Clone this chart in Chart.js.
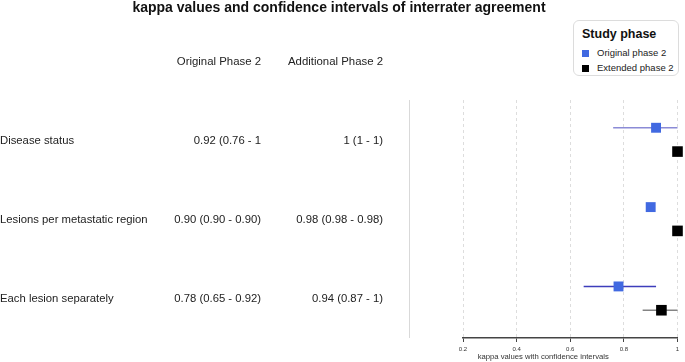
<!DOCTYPE html>
<html>
<head>
<meta charset="utf-8">
<script src="https://cdn.jsdelivr.net/npm/chart.js@4"></script>
<style>
  html, body { margin: 0; padding: 0; background: #fff; }
  #wrap { position: relative; width: 685px; height: 362px; }
  #legend { position: absolute; left: 573px; top: 20px; width: 106px; height: 56px;
    border: 1px solid #dcdcdc; border-radius: 6px; box-sizing: border-box;
    font-family: "Liberation Sans", Arial, sans-serif; background: #fff; }
  #legend .t { position: absolute; left: 8px; top: 6px; font-size: 12.5px; font-weight: bold; color: #111; }
  #legend .it { position: absolute; left: 8px; font-size: 9.5px; color: #222; white-space: nowrap; }
  #legend .sw { display: inline-block; width: 7px; height: 7px; margin-right: 8px; vertical-align: -0.5px; }
</style>
</head>
<body>
<div id="wrap">
  <canvas id="c" width="685" height="362"></canvas>
  <div id="legend"></div>
</div>
<script>
// ---- data ----
const rowLabels = ["Disease status", "Lesions per metastatic region", "Each lesion separately"];
const columnHeaders = ["Original Phase 2", "Additional Phase 2"];
const seriesNames = ["Original phase 2", "Extended phase 2"];
const originalKappa = [0.92, 0.90, 0.78];
const originalLow   = [0.76, 0.90, 0.65];
const originalHigh  = [1.00, 0.90, 0.92];
const extendedKappa = [1.00, 1.00, 0.94];
const extendedLow   = [1.00, 1.00, 0.87];
const extendedHigh  = [1.00, 1.00, 1.00];
const originalText  = ["0.92 (0.76 - 1", "0.90 (0.90 - 0.90)", "0.78 (0.65 - 0.92)"];
const extendedText  = ["1 (1 - 1)", "0.98 (0.98 - 0.98)", "0.94 (0.87 - 1)"];
const xTicks = [0.2, 0.4, 0.6, 0.8, 1];
const chartTitle = "kappa values and confidence intervals of interrater agreement";
const xAxisTitle = "kappa values with confidence intervals";

// ---- styles ----
const FONT = '"Liberation Sans", Arial, sans-serif';
const blue = "#4169E1";
const black = "#000000";
const offset = 0.15;

const origPts = originalKappa.map((v, i) => ({ x: v, y: i - offset, lo: originalLow[i], hi: originalHigh[i] }));
const extPts  = extendedKappa.map((v, i) => ({ x: v, y: i + offset, lo: extendedLow[i], hi: extendedHigh[i] }));
const ciColors = [
  ["rgba(100,100,200,0.75)", "rgba(100,100,200,0.75)", "rgba(40,40,180,0.9)"],
  ["rgba(60,60,60,0.85)", "rgba(60,60,60,0.85)", "rgba(110,110,110,0.85)"]
];

// legend (HTML)
const lg = document.getElementById('legend');
lg.innerHTML = '<div class="t">Study phase</div>' +
  seriesNames.map((n, i) => '<div class="it" style="top:' + (26 + i * 15) + 'px"><span class="sw" style="background:' + [blue, black][i] + '"></span>' + n + '</div>').join('');

const tablePlugin = {
  id: 'tablePlugin',
  beforeDatasetsDraw(chart) {
    const { ctx, scales: { x, y } } = chart;
    ctx.save();
    chart.data.datasets.forEach((ds, di) => {
      ds.data.forEach((p, i) => {
        if (p.hi - p.lo <= 0) return;
        ctx.strokeStyle = ciColors[di][i];
        ctx.lineWidth = 1.5;
        ctx.beginPath();
        const py = y.getPixelForValue(p.y);
        ctx.moveTo(x.getPixelForValue(p.lo), py);
        ctx.lineTo(x.getPixelForValue(p.hi), py);
        ctx.stroke();
      });
    });
    ctx.restore();
  },
  afterDraw(chart) {
    const { ctx, scales: { x, y }, chartArea } = chart;
    ctx.save();
    // title
    ctx.fillStyle = "#111";
    ctx.font = "bold 14px " + FONT;
    ctx.textAlign = "center";
    ctx.textBaseline = "middle";
    ctx.fillText(chartTitle, 339, 8);
    // separator line
    const sepX = chartArea.left - 54;
    ctx.strokeStyle = "#d9d9d9";
    ctx.lineWidth = 1;
    ctx.beginPath();
    ctx.moveTo(sepX + 0.5, chartArea.top);
    ctx.lineTo(sepX + 0.5, chartArea.bottom);
    ctx.stroke();
    // table
    ctx.fillStyle = "#222";
    ctx.font = "11.4px " + FONT;
    const col1 = 261, col2 = 383;
    ctx.textAlign = "right";
    ctx.fillText(columnHeaders[0], col1, 62);
    ctx.fillText(columnHeaders[1], col2, 62);
    ctx.font = "11.3px " + FONT;
    rowLabels.forEach((lab, i) => {
      const py = y.getPixelForValue(i) + 1;
      ctx.textAlign = "left";
      ctx.fillText(lab, 0, py);
      ctx.textAlign = "right";
      ctx.fillText(originalText[i], col1, py);
      ctx.fillText(extendedText[i], col2, py);
    });
    // axis title
    ctx.font = "7.7px " + FONT;
    ctx.fillStyle = "#333";
    ctx.textAlign = "center";
    ctx.fillText(xAxisTitle, (sepX + chartArea.right) / 2, 357);
    ctx.restore();
  }
};

new Chart(document.getElementById('c'), {
  type: 'scatter',
  data: {
    datasets: [
      { label: seriesNames[0], data: origPts, pointStyle: 'rect', pointRadius: 7, pointHoverRadius: 7,
        backgroundColor: blue, borderColor: blue, borderWidth: 0, clip: false },
      { label: seriesNames[1], data: extPts, pointStyle: 'rect', pointRadius: 7.5, pointHoverRadius: 7.5,
        backgroundColor: black, borderColor: black, borderWidth: 0, clip: false }
    ]
  },
  plugins: [tablePlugin],
  options: {
    responsive: false,
    animation: false,
    events: [],
    layout: { padding: { left: 463, right: 5, top: 100, bottom: 0 } },
    plugins: {
      legend: { display: false },
      tooltip: { enabled: false },
      title: { display: false }
    },
    scales: {
      x: {
        type: 'linear', min: 0.2, max: 1,
        afterBuildTicks(scale) { scale.ticks = xTicks.map(v => ({ value: v })); },
        afterFit(scale) { scale.height = 24; scale.paddingRight = 0; scale.paddingLeft = 0; },
        grid: { color: "#dddddd", lineWidth: 1, drawTicks: true, tickLength: 4,
                tickColor: "#444", tickBorderDash: [0, 0], tickWidth: 1 },
        border: { display: true, color: "#444", width: 1.5, dash: [3, 3] },
        ticks: { color: "#333", font: { family: FONT, size: 6 }, padding: 4, maxRotation: 0,
                 callback: v => String(v) }
      },
      y: {
        type: 'linear', min: -0.5, max: 2.5, reverse: true, display: false
      }
    }
  }
});
</script>
</body>
</html>
